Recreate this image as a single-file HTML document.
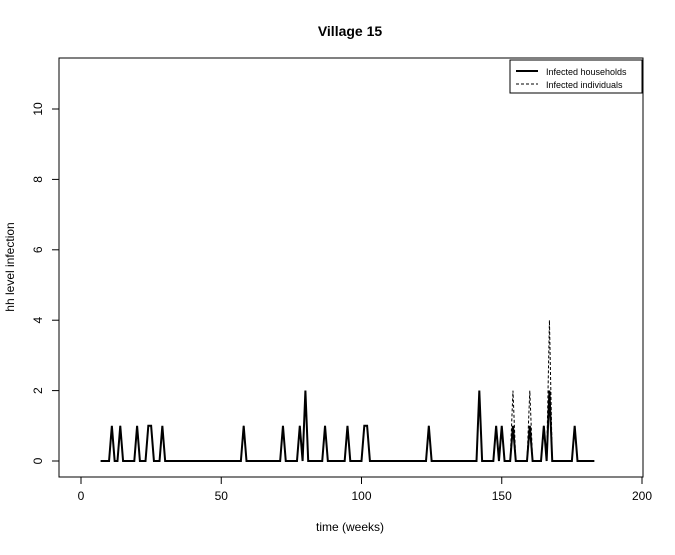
<!DOCTYPE html>
<html><head><meta charset="utf-8"><style>
body{margin:0;background:#fff}
svg{font-family:"Liberation Sans",Arial,sans-serif}
</style></head><body>
<svg id="chart" width="675" height="550">
<rect width="675" height="550" fill="#fff"/>
<text x="350" y="36" text-anchor="middle" font-size="14" font-weight="bold">Village  15</text>
<rect x="59" y="58" width="584" height="419" fill="none" stroke="#000"/>
<g id="xaxis"></g>
<g id="yaxis"></g>
<text x="350" y="531" text-anchor="middle" font-size="12">time (weeks)</text>
<text transform="translate(14,267) rotate(-90)" text-anchor="middle" font-size="12">hh level infection</text>
<g id="series"></g>
<g>
<rect x="510" y="60" width="132" height="33" fill="#fff" stroke="#000"/>
<line x1="516" y1="71" x2="538" y2="71" stroke="#000" stroke-width="2"/>
<text x="546" y="75" font-size="9">Infected households</text>
<line x1="516" y1="84" x2="538" y2="84" stroke="#000" stroke-dasharray="3,2"/>
<text x="546" y="88" font-size="9">Infected individuals</text>
</g>
</svg>
<script>
const xTicks=[0,50,100,150,200];
const yTicks=[0,2,4,6,8,10];
const startWeek=7, endWeek=183;
const peakWeeks=[11,14,20,24,25,29,58,72,78,80,87,95,101,102,124,142,148,150,154,160,165,167,176];
const hhValues=[1,1,1,1,1,1,1,1,1,2,1,1,1,1,1,2,1,1,1,1,1,2,1];
const indValues=[1,1,1,1,1,1,1,1,1,2,1,1,1,1,1,2,1,1,2,2,1,4,1];
const xs=v=>81+v*2.805, ys=v=>461-v*35.2;
const NS="http://www.w3.org/2000/svg";
function mk(t,a,p){const e=document.createElementNS(NS,t);for(const k in a)e.setAttribute(k,a[k]);p.appendChild(e);return e;}
const xa=document.getElementById('xaxis'), ya=document.getElementById('yaxis'), sg=document.getElementById('series');
mk('line',{x1:xs(0),x2:xs(200),y1:477,y2:477,stroke:'#000'},xa);
xTicks.forEach(t=>{mk('line',{x1:xs(t),x2:xs(t),y1:477,y2:484,stroke:'#000'},xa);
 const tx=mk('text',{x:xs(t),y:500,'text-anchor':'middle','font-size':12},xa);tx.textContent=t;
 
 });
mk('line',{x1:59,x2:59,y1:ys(0),y2:ys(10),stroke:'#000'},ya);
yTicks.forEach(t=>{mk('line',{x1:52,x2:59,y1:ys(t),y2:ys(t),stroke:'#000'},ya);
 const tx=mk('text',{transform:`translate(42,${ys(t)}) rotate(-90)`,'text-anchor':'middle','font-size':12},ya);tx.textContent=t;
 
 });
function series(vals){const m={};peakWeeks.forEach((w,i)=>m[w]=vals[i]);const pts=[];
 for(let w=startWeek;w<=endWeek;w++)pts.push(xs(w)+','+ys(m[w]||0));return pts.join(' ');}
const ind=mk('polyline',{points:series(indValues),fill:'none',stroke:'#000','stroke-width':1,'stroke-dasharray':'3,2'},sg);


const hh=mk('polyline',{points:series(hhValues),fill:'none',stroke:'#000','stroke-width':2},sg);


</script>
</body></html>
